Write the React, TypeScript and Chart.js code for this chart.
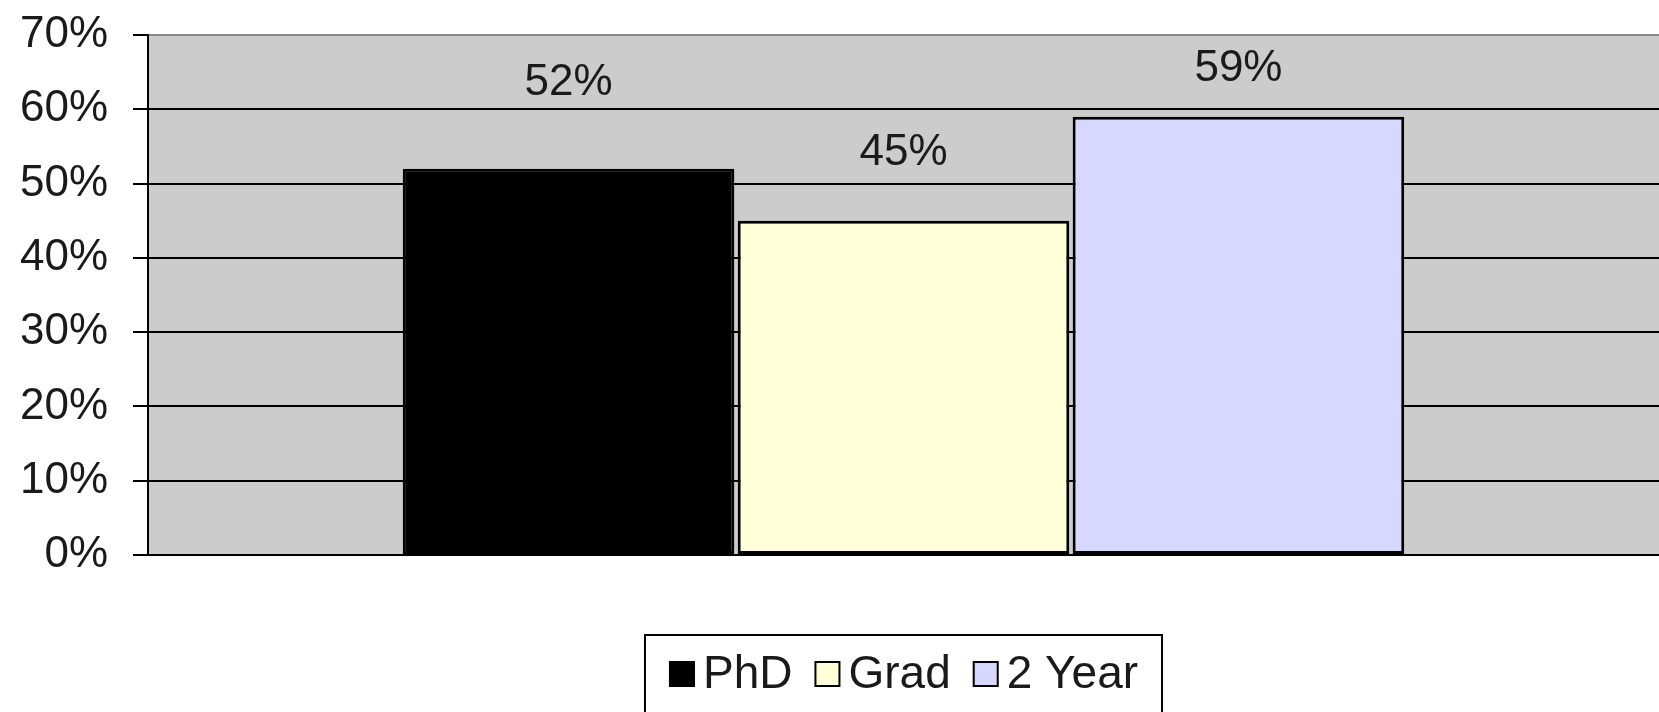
import { useEffect, useRef } from 'react';
import { Chart, registerables } from 'chart.js';

Chart.register(...registerables);

// ---- Data ----
const categories = [''];
const seriesNames = ['PhD', 'Grad', '2 Year'];
const phdValues = [52];
const gradValues = [45];
const twoYearValues = [59];
const yMin = 0;
const yMax = 70;
const yStep = 10;

// ---- Styles ----
const seriesColors = ['#000000', '#FFFFD9', '#D7D7FF'];
const labelLift = [86, 68, 48];
const FONT = '"Liberation Sans", Arial, Helvetica, sans-serif';

const plotBg = {
  id: 'plotBg',
  beforeDraw(chart: any) {
    const { ctx, chartArea } = chart;
    if (!chartArea) return;
    ctx.save();
    ctx.fillStyle = '#cccccc';
    ctx.fillRect(chartArea.left, chartArea.top, chartArea.right - chartArea.left, chartArea.bottom - chartArea.top);
    ctx.restore();
  },
};

const valueLabels = {
  id: 'valueLabels',
  afterDatasetsDraw(chart: any) {
    const { ctx } = chart;
    ctx.save();
    ctx.font = `44px ${FONT}`;
    ctx.fillStyle = '#1a1a1a';
    ctx.textAlign = 'center';
    ctx.textBaseline = 'middle';
    chart.data.datasets.forEach((ds: any, i: number) => {
      const meta = chart.getDatasetMeta(i);
      meta.data.forEach((bar: any, j: number) => {
        const v = ds.data[j];
        ctx.fillText(`${v}%`, bar.x, bar.y - labelLift[i]);
      });
    });
    ctx.restore();
  },
};

const boxedLegend = {
  id: 'boxedLegend',
  afterDraw(chart: any) {
    const { ctx, chartArea } = chart;
    ctx.save();
    ctx.font = `46px ${FONT}`;
    const box = 26;
    const gapText = 8;
    const gapItem = 22;
    const padX = 24;
    const items = chart.data.datasets.map((ds: any) => ({
      text: ds.label,
      color: ds.backgroundColor,
      w: ctx.measureText(ds.label).width,
    }));
    let total = 0;
    items.forEach((it: any, i: number) => {
      total += box + gapText + it.w + (i > 0 ? gapItem : 0);
    });
    const boxW = total + padX * 2;
    const cx = (chartArea.left + chartArea.right) / 2;
    const left = cx - boxW / 2;
    const top = chartArea.bottom + 80;
    const cy = top + 39;
    ctx.fillStyle = '#ffffff';
    ctx.fillRect(left, top, boxW, 120);
    ctx.strokeStyle = '#000000';
    ctx.lineWidth = 2;
    ctx.strokeRect(left, top, boxW, 120);
    let x = left + padX;
    ctx.textBaseline = 'middle';
    ctx.textAlign = 'left';
    items.forEach((it: any) => {
      ctx.fillStyle = it.color;
      ctx.fillRect(x, cy - box / 2, box, box);
      ctx.lineWidth = 2;
      ctx.strokeStyle = '#000000';
      ctx.strokeRect(x + 1, cy - box / 2 + 1, box - 2, box - 2);
      x += box + gapText;
      ctx.fillStyle = '#1a1a1a';
      ctx.fillText(it.text, x, cy + 1);
      x += it.w + gapItem;
    });
    ctx.restore();
  },
};

export default function App() {
  const canvasRef = useRef<HTMLCanvasElement | null>(null);

  useEffect(() => {
    if (!canvasRef.current) return;
    const seriesValues = [phdValues, gradValues, twoYearValues];
    const chart = new Chart(canvasRef.current, {
      type: 'bar',
      data: {
        labels: categories,
        datasets: seriesNames.map((name, i) => ({
          label: name,
          data: seriesValues[i],
          backgroundColor: seriesColors[i],
          borderColor: '#000000',
          borderWidth: 3,
          borderSkipped: false,
          categoryPercentage: 0.665,
          barPercentage: 0.99,
        })),
      },
      options: {
        responsive: false,
        animation: false,
        layout: { padding: { top: 35, right: 0, bottom: 157, left: 0 } },
        plugins: {
          legend: { display: false },
          tooltip: { enabled: false },
          title: { display: false },
        },
        scales: {
          x: { display: false },
          y: {
            min: yMin,
            max: yMax,
            ticks: {
              stepSize: yStep,
              padding: 25,
              color: '#1a1a1a',
              font: { family: FONT, size: 44 },
              callback: (v: any) => `${v}%`,
            },
            grid: {
              color: (c: any) => (c.tick && c.tick.value === yMax ? '#8a8a8a' : '#000000'),
              lineWidth: 2,
              tickLength: 15,
              tickColor: '#000000',
              tickWidth: 2,
            },
            border: { display: true, color: '#000000', width: 2 },
            afterFit: (scale: any) => {
              scale.width = 148;
              scale.paddingTop = 0;
              scale.paddingBottom = 0;
            },
          },
        },
      },
      plugins: [plotBg, valueLabels, boxedLegend],
    });
    return () => chart.destroy();
  }, []);

  return (
    <div style={{ position: 'absolute', left: 0, top: 0, width: 1659, height: 712, background: '#ffffff' }}>
      <canvas ref={canvasRef} width={1659} height={712} />
    </div>
  );
}
